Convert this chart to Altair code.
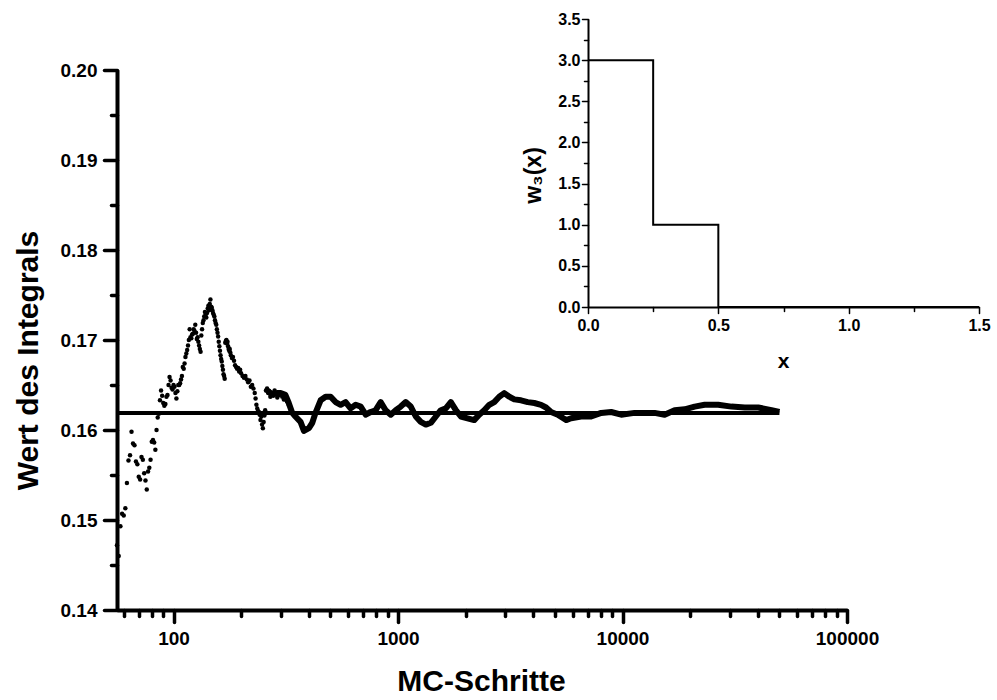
import altair as alt
import pandas as pd

FONT = "Liberation Sans"

# ---- running MC estimate, sparse early steps ----
early_n = [56, 57, 58, 59, 60, 61, 62, 63, 64, 65,
           66, 67, 68, 69, 70, 71, 72, 73, 74, 75,
           76, 77, 78, 79, 80, 81, 82, 83, 84, 85,
           86, 87, 88, 89, 90, 91, 92, 93, 94, 95,
           96, 97, 98, 99, 100, 101, 102, 103, 104, 105,
           106, 107, 108, 109, 110, 111, 112, 113, 114, 115,
           116, 117, 118, 119, 120, 121, 122, 123, 124, 125,
           126, 127, 128, 129, 130, 131, 132, 133, 134, 135,
           136, 137, 138, 139, 140, 141, 142, 143, 144, 145,
           146, 147, 148, 149, 150, 151, 152, 153, 154, 155,
           156, 157, 158, 159, 160, 161, 162, 163, 164, 165,
           166, 167, 168, 169, 170, 171, 172, 173, 174, 175,
           176, 177, 178, 179, 180, 182, 184, 186, 188, 190,
           192, 194, 196, 198, 200, 203, 206, 209, 212, 215,
           218, 221, 224, 227, 230, 232, 234, 236, 238, 240,
           242, 244, 246, 248, 250, 252, 254, 256, 258, 261,
           264, 267, 270, 274, 278, 282, 286, 290, 295, 300,
           305, 310, 315, 320, 326]
early_v = [0.1472, 0.1460, 0.1493, 0.1507, 0.1505, 0.1513, 0.1541, 0.1566, 0.1572, 0.1598,
           0.1585, 0.1583, 0.1565, 0.1562, 0.1548, 0.1545, 0.1570, 0.1567, 0.1552, 0.1544,
           0.1534, 0.1554, 0.1558, 0.1567, 0.1587, 0.1589, 0.1586, 0.1578, 0.1600, 0.1614,
           0.1618, 0.1633, 0.1644, 0.1638, 0.1630, 0.1627, 0.1629, 0.1637, 0.1639, 0.1650,
           0.1659, 0.1655, 0.1647, 0.1645, 0.1650, 0.1648, 0.1641, 0.1635, 0.1643, 0.1650,
           0.1650, 0.1652, 0.1656, 0.1660, 0.1670, 0.1668, 0.1674, 0.1681, 0.1685, 0.1689,
           0.1694, 0.1700, 0.1712, 0.1703, 0.1702, 0.1706, 0.1707, 0.1712, 0.1710, 0.1717,
           0.1708, 0.1701, 0.1703, 0.1698, 0.1694, 0.1690, 0.1687, 0.1705, 0.1712, 0.1719,
           0.1722, 0.1726, 0.1731, 0.1728, 0.1725, 0.1730, 0.1735, 0.1738, 0.1733, 0.1740,
           0.1745, 0.1737, 0.1736, 0.1733, 0.1730, 0.1728, 0.1726, 0.1722, 0.1719, 0.1717,
           0.1712, 0.1708, 0.1704, 0.1698, 0.1693, 0.1688, 0.1683, 0.1679, 0.1676, 0.1671,
           0.1667, 0.1662, 0.1660, 0.1657, 0.1697, 0.1699, 0.1700, 0.1696, 0.1698, 0.1693,
           0.1690, 0.1688, 0.1690, 0.1686, 0.1683, 0.1680, 0.1681, 0.1677, 0.1672, 0.1670,
           0.1668, 0.1669, 0.1665, 0.1667, 0.1663, 0.1660, 0.1658, 0.1660, 0.1656, 0.1653,
           0.1655, 0.1648, 0.1650, 0.1646, 0.1641, 0.1635, 0.1628, 0.1624, 0.1621, 0.1620,
           0.1617, 0.1611, 0.1615, 0.1606, 0.1602, 0.1609, 0.1616, 0.1622, 0.1644, 0.1646,
           0.1641, 0.1643, 0.1637, 0.1641, 0.1638, 0.1644, 0.1640, 0.1636, 0.1639, 0.1641,
           0.1637, 0.1634, 0.1639, 0.1632, 0.1628]

# ---- dense later steps (the thick band) ----
band_n = [262, 267, 274, 280, 290, 300, 315, 326, 338, 349,
          368, 381, 401, 415, 429, 452, 476, 501, 527, 555,
          584, 615, 648, 682, 718, 755, 795, 837, 881, 928,
          977, 1028, 1082, 1140, 1200, 1263, 1330, 1400, 1474, 1551,
          1633, 1719, 1810, 1905, 2041, 2184, 2299, 2421, 2549, 2683,
          2824, 2973, 3130, 3296, 3530, 3782, 4047, 4335, 4564, 4805,
          5148, 5607, 5902, 6541, 7251, 8034, 8906, 9868, 11315, 13900,
          15400, 17070, 18920, 20960, 23230, 26670, 30580, 35050, 40230, 46110,
          50000]
band_v = [0.1644, 0.1642, 0.1640, 0.1640, 0.1641, 0.1641, 0.1639, 0.1630, 0.1619, 0.1615,
          0.1609, 0.1599, 0.1602, 0.1608, 0.1619, 0.1633, 0.1637, 0.1637, 0.1631, 0.1628,
          0.1631, 0.1624, 0.1628, 0.1626, 0.1617, 0.1620, 0.1622, 0.1631, 0.1622, 0.1617,
          0.1622, 0.1626, 0.1631, 0.1626, 0.1615, 0.1609, 0.1606, 0.1608, 0.1615, 0.1622,
          0.1624, 0.1631, 0.1622, 0.1615, 0.1613, 0.1611, 0.1617, 0.1622, 0.1628, 0.1631,
          0.1637, 0.1641, 0.1637, 0.1634, 0.1633, 0.1631, 0.1630, 0.1628, 0.1625, 0.1620,
          0.1617, 0.1611, 0.1613, 0.1615, 0.1615, 0.1619, 0.1620, 0.1617, 0.1619, 0.1619,
          0.1617, 0.1622, 0.1623, 0.1626, 0.1628, 0.1628, 0.1626, 0.1625, 0.1625, 0.1622,
          0.1620]

# ---- exact value reference line ----
ref_value = [0.1619]
ref_start = [56]
ref_end = [50000]

# ---- inset: weight function w3(x) ----
step_x = [0.0, 0.25, 0.5, 1.5]
step_w = [3.0, 1.0, 0.0, 0.0]

# ---- ticks ----
main_x_ticks = [60, 70, 80, 90, 100, 200, 300, 400, 500, 600, 700, 800, 900,
                1000, 2000, 3000, 4000, 5000, 6000, 7000, 8000, 9000,
                10000, 20000, 30000, 40000, 50000, 60000, 70000, 80000, 90000, 100000]
main_y_ticks = [0.14, 0.145, 0.15, 0.155, 0.16, 0.165, 0.17, 0.175, 0.18, 0.185, 0.19, 0.195, 0.20]
inset_x_ticks = [0.0, 0.25, 0.5, 0.75, 1.0, 1.25, 1.5]
inset_y_ticks = [0.0, 0.25, 0.5, 0.75, 1.0, 1.25, 1.5, 1.75, 2.0, 2.25, 2.5, 2.75, 3.0, 3.25, 3.5]

W, H = 730, 540

early = pd.DataFrame({"N": early_n, "value": early_v})
band = pd.DataFrame({"N": band_n, "value": band_v})
ref = pd.DataFrame({"N": ref_start, "N2": ref_end, "value": ref_value})
step = pd.DataFrame({"x": step_x, "w": step_w})

MAJ_X = "(datum.value == 100 || datum.value == 1000 || datum.value == 10000 || datum.value == 100000)"
MAJ_Y = "(abs(datum.value * 100 - round(datum.value * 100)) < 0.01)"
MAJ_HALF = "(abs(datum.value * 2 - round(datum.value * 2)) < 0.01)"

common = dict(
    domainColor="black", tickColor="black", labelColor="black", titleColor="black",
    labelFont=FONT, titleFont=FONT, labelFontWeight="bold", titleFontWeight="bold",
    grid=False, tickCap="round",
)

x_axis = alt.Axis(
    orient="bottom", values=main_x_ticks,
    labelExpr=f"{MAJ_X} ? format(datum.value, 'd') : ''",
    tickSize={"condition": {"test": MAJ_X, "value": 12}, "value": 6},
    tickWidth=3.5, domainWidth=4, labelFontSize=19, labelPadding=7,
    title="MC-Schritte", titleFontSize=30, titleX=364, titleY=80,
    titleAlign="center", titleBaseline="alphabetic", titleAngle=0,
    labelOverlap=False, labelFlush=False, **common,
)
y_axis = alt.Axis(
    orient="left", values=main_y_ticks,
    labelExpr=f"{MAJ_Y} ? format(datum.value, '.2f') : ''",
    tickSize={"condition": {"test": MAJ_Y, "value": 13}, "value": 6},
    tickWidth=3.5, domainWidth=4, labelFontSize=19, labelPadding=7,
    title="Wert des Integrals", titleFontSize=30, titleX=-80, titleY=290,
    titleAlign="center", titleBaseline="alphabetic", titleAngle=270,
    labelOverlap=False, labelFlush=False, **common,
)

xs = alt.Scale(type="log", domain=[56, 100000], nice=False)
ys = alt.Scale(domain=[0.14, 0.20], nice=False, zero=False)

pts = alt.Chart(early).mark_circle(size=20, color="black", opacity=1).encode(
    x=alt.X("N:Q", scale=xs, axis=x_axis),
    y=alt.Y("value:Q", scale=ys, axis=y_axis),
)
band_line = alt.Chart(band).mark_line(color="black", strokeWidth=6, strokeJoin="round").encode(
    x=alt.X("N:Q", scale=xs),
    y=alt.Y("value:Q", scale=ys),
)
ref_line = alt.Chart(ref).mark_rule(color="black", strokeWidth=4).encode(
    x=alt.X("N:Q", scale=xs),
    x2="N2:Q",
    y=alt.Y("value:Q", scale=ys),
)
main = alt.layer(ref_line, band_line, pts)

# inset placement (pixels inside the main plot area)
ix0, ix1 = 471, 862
iy0, iy1 = 237, -51

ix_axis = alt.Axis(
    orient="bottom", offset=-303, values=inset_x_ticks,
    labelExpr=f"{MAJ_HALF} ? format(datum.value, '.1f') : ''",
    tickSize={"condition": {"test": MAJ_HALF, "value": 6}, "value": 4},
    tickWidth=1.5, domainWidth=2, labelFontSize=16, labelPadding=4,
    title="x", titleFontSize=21, titleX=666, titleY=60,
    titleAlign="center", titleBaseline="alphabetic", titleAngle=0,
    labelOverlap=False, labelFlush=False, **common,
)
iy_axis = alt.Axis(
    orient="left", offset=-471, values=inset_y_ticks,
    labelExpr=f"{MAJ_HALF} ? format(datum.value, '.1f') : ''",
    tickSize={"condition": {"test": MAJ_HALF, "value": 6}, "value": 4},
    tickWidth=1.5, domainWidth=2, labelFontSize=16, labelPadding=2,
    title="w₃(x)", titleFontSize=23, titleX=-48, titleY=105,
    titleAlign="center", titleBaseline="alphabetic", titleAngle=270,
    labelOverlap=False, labelFlush=False, **common,
)

inset = alt.Chart(step).mark_line(color="black", strokeWidth=2, interpolate="step-after").encode(
    x=alt.X("x:Q", scale=alt.Scale(domain=[0, 1.5], range=[ix0, ix1], nice=False, zero=False), axis=ix_axis),
    y=alt.Y("w:Q", scale=alt.Scale(domain=[0, 3.5], range=[iy0, iy1], nice=False, zero=False), axis=iy_axis),
)

chart = alt.layer(main, inset).resolve_scale(
    x="independent", y="independent"
).resolve_axis(
    x="independent", y="independent"
).properties(
    width=W, height=H,
    autosize=alt.AutoSizeParams(type="none"),
    padding={"left": 117, "top": 70, "right": 150, "bottom": 90},
    background="white",
).configure_view(strokeOpacity=0)

chart.save("out.html", embed_options={"renderer": "svg", "actions": False})
